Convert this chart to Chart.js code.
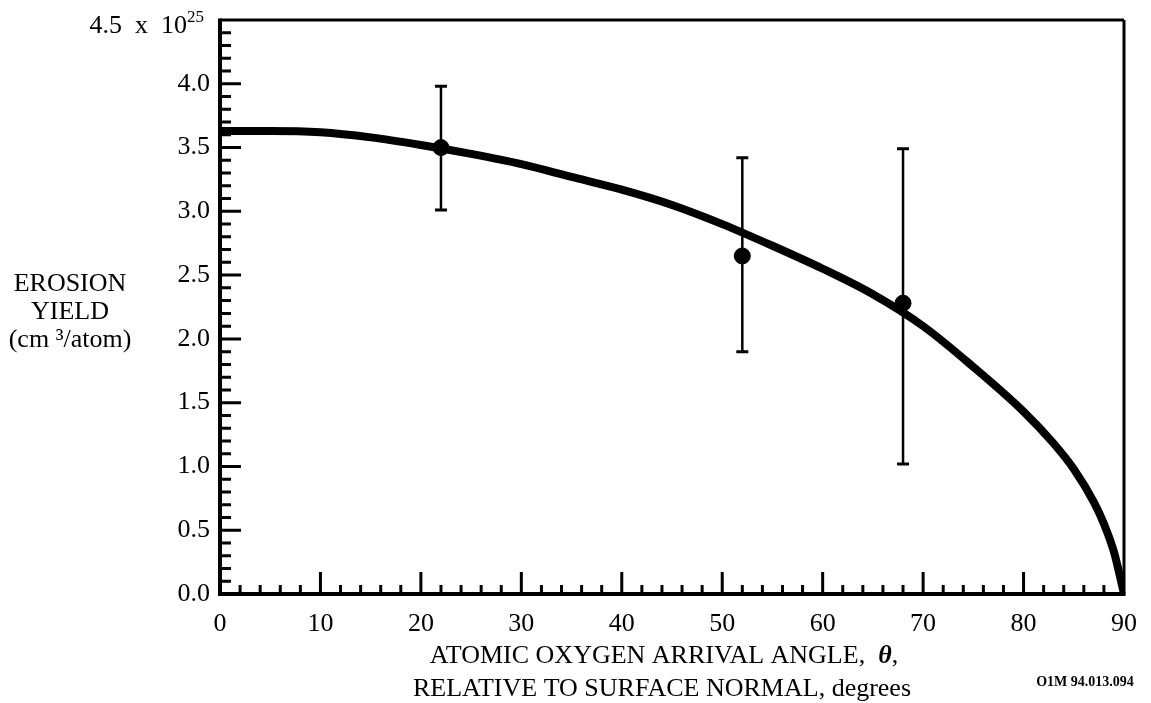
<!DOCTYPE html>
<html>
<head>
<meta charset="utf-8">
<script src="https://cdn.jsdelivr.net/npm/chart.js@4/dist/chart.umd.min.js"></script>
<style>
  body { margin: 0; background: #fff; }
  canvas { display: block; }
</style>
</head>
<body>
<canvas id="grafik" width="1151" height="703"></canvas>
<script>
// fitted curve
var curveAngle = [0, 5, 10, 15, 20, 25, 30, 35, 40, 45, 50, 55, 60, 65, 70, 75, 80, 83, 85, 87, 88, 89, 90];
var curveYield = [3.63, 3.63, 3.62, 3.58, 3.52, 3.45, 3.37, 3.27, 3.17, 3.05, 2.90, 2.73, 2.55, 2.35, 2.10, 1.78, 1.43, 1.18, 0.98, 0.72, 0.55, 0.33, 0.0];

// measured points with error bars
var measAngle = [22, 52, 68];
var measYield = [3.50, 2.65, 2.28];
var errLow = [3.01, 1.90, 1.02];
var errHigh = [3.98, 3.42, 3.49];

var xTickLabels = ['0', '10', '20', '30', '40', '50', '60', '70', '80', '90'];
var yTickLabels = ['0.0', '0.5', '1.0', '1.5', '2.0', '2.5', '3.0', '3.5', '4.0'];

var serif = "'Liberation Serif', 'Times New Roman', serif";
Chart.defaults.font.family = serif;
Chart.defaults.color = '#000';

var curvePts = curveAngle.map(function (a, i) { return { x: a, y: curveYield[i] }; });
var measPts = measAngle.map(function (a, i) { return { x: a, y: measYield[i] }; });

var extras = {
    id: 'extras',
    beforeDatasetsDraw: function (chart) {
        var ctx = chart.ctx;
        var xs = chart.scales.x, ys = chart.scales.y;
        ctx.save();
        ctx.strokeStyle = '#000';
        for (var i = 0; i < measAngle.length; i++) {
            var px = xs.getPixelForValue(measAngle[i]);
            var lo = ys.getPixelForValue(errLow[i]);
            var hi = ys.getPixelForValue(errHigh[i]);
            ctx.lineWidth = 2.5;
            ctx.beginPath();
            ctx.moveTo(px, lo); ctx.lineTo(px, hi);
            ctx.stroke();
            ctx.lineWidth = 3;
            ctx.beginPath();
            ctx.moveTo(px - 6, lo); ctx.lineTo(px + 6, lo);
            ctx.moveTo(px - 6, hi); ctx.lineTo(px + 6, hi);
            ctx.stroke();
        }
        ctx.restore();
    },
    afterDraw: function (chart) {
        var ctx = chart.ctx;
        var a = chart.chartArea;
        var xs = chart.scales.x, ys = chart.scales.y;
        ctx.save();
        ctx.strokeStyle = '#000';
        ctx.lineCap = 'butt';

        // frame
        ctx.lineWidth = 3;
        ctx.beginPath();
        ctx.moveTo(a.left, a.top); ctx.lineTo(a.right, a.top);
        ctx.moveTo(a.right, a.top); ctx.lineTo(a.right, a.bottom);
        ctx.stroke();
        ctx.lineWidth = 4;
        ctx.beginPath();
        ctx.moveTo(a.left, a.top - 1.5); ctx.lineTo(a.left, a.bottom + 2);
        ctx.moveTo(a.left - 2, a.bottom); ctx.lineTo(a.right + 1.5, a.bottom);
        ctx.stroke();

        // inward ticks
        ctx.lineWidth = 3;
        ctx.beginPath();
        for (var v = 1; v < 45; v++) {
            var py = ys.getPixelForValue(v / 10);
            var len = (v % 5 === 0) ? 21 : 11;
            ctx.moveTo(a.left, py); ctx.lineTo(a.left + len, py);
        }
        for (var t = 2; t < 90; t += 2) {
            var px = xs.getPixelForValue(t);
            var l = (t % 10 === 0) ? 22 : 9;
            ctx.moveTo(px, a.bottom); ctx.lineTo(px, a.bottom - l);
        }
        ctx.stroke();

        // top y label with exponent
        ctx.fillStyle = '#000';
        ctx.textBaseline = 'middle';
        ctx.textAlign = 'right';
        ctx.font = '26px ' + serif;
        var yTop = ys.getPixelForValue(4.5);
        ctx.fillText('4.5  x  10', 187, yTop + 6);
        ctx.textAlign = 'left';
        ctx.font = '17px ' + serif;
        ctx.fillText('25', 187, yTop - 2);

        // y title
        ctx.textAlign = 'center';
        ctx.font = '26px ' + serif;
        ctx.fillText('EROSION', 70, 284);
        ctx.fillText('YIELD', 70, 312);
        ctx.fillText('(cm \u00b3/atom)', 70, 340);

        // x title, line 1 with italic theta
        var cx = 664;
        var p1 = 'ATOMIC OXYGEN ARRIVAL ANGLE,  ';
        var p2 = '\u03b8';
        var p3 = ',';
        ctx.font = '26px ' + serif;
        var w1 = ctx.measureText(p1).width;
        var w3 = ctx.measureText(p3).width;
        ctx.font = 'italic bold 26px ' + serif;
        var w2 = ctx.measureText(p2).width;
        var x0 = cx - (w1 + w2 + w3) / 2;
        ctx.textAlign = 'left';
        ctx.font = '26px ' + serif;
        ctx.fillText(p1, x0, 656);
        ctx.font = 'italic bold 26px ' + serif;
        ctx.fillText(p2, x0 + w1, 656);
        ctx.font = '26px ' + serif;
        ctx.fillText(p3, x0 + w1 + w2, 656);

        ctx.textAlign = 'center';
        ctx.fillText('RELATIVE TO SURFACE NORMAL, degrees', cx - 2, 689);

        ctx.font = 'bold 14px ' + serif;
        ctx.fillText('O1M 94.013.094', 1085, 682);
        ctx.restore();
    }
};

var ctx = document.getElementById('grafik').getContext('2d');
var chart = new Chart(ctx, {
    type: 'scatter',
    data: {
        datasets: [{
            label: 'fit',
            data: curvePts,
            showLine: true,
            borderColor: '#000',
            borderWidth: 8,
            pointRadius: 0,
            cubicInterpolationMode: 'monotone',
            order: 2
        }, {
            label: 'measured',
            data: measPts,
            showLine: false,
            backgroundColor: '#000',
            borderColor: '#000',
            pointRadius: 8,
            order: 1
        }]
    },
    options: {
        responsive: false,
        animation: false,
        events: [],
        layout: { padding: { top: 20, right: 27, left: 0, bottom: 0 } },
        plugins: { legend: { display: false }, tooltip: { enabled: false } },
        scales: {
            x: {
                type: 'linear',
                min: 0, max: 90,
                grid: { display: false, drawTicks: false },
                border: { display: false },
                ticks: {
                    stepSize: 10,
                    padding: 15,
                    font: { size: 26 },
                    color: '#000',
                    callback: function (v) { return xTickLabels[v / 10]; }
                },
                afterFit: function (s) { s.height = 109; s.paddingLeft = 0; s.paddingRight = 0; }
            },
            y: {
                min: 0, max: 4.5,
                grid: { display: false, drawTicks: false },
                border: { display: false },
                ticks: {
                    stepSize: 0.5,
                    padding: 10,
                    font: { size: 26 },
                    color: '#000',
                    callback: function (v) {
                        var k = Math.round(v * 2);
                        return k < yTickLabels.length ? yTickLabels[k] : '';
                    }
                },
                afterFit: function (s) { s.width = 220; s.paddingTop = 0; s.paddingBottom = 0; }
            }
        }
    },
    plugins: [extras]
});
</script>
</body>
</html>
